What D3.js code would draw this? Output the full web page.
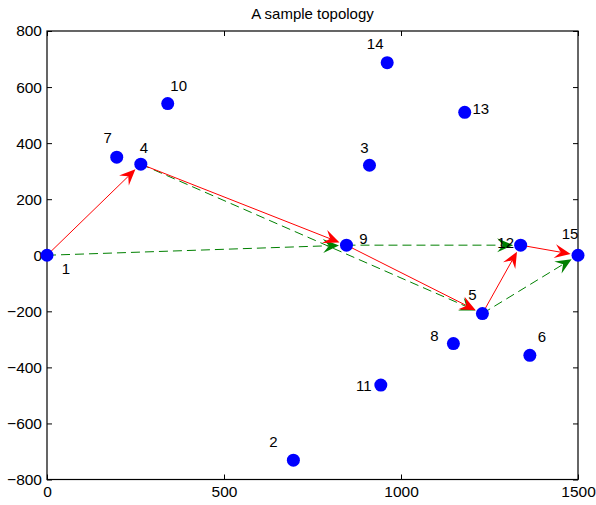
<!DOCTYPE html>
<html>
<head>
<meta charset="utf-8">
<script src="https://cdn.jsdelivr.net/npm/d3@7"></script>
<style>
	body { margin: 0; background: #fff; }
	svg { display: block; font-family: "Liberation Sans", Arial, sans-serif; }
</style>
</head>
<body>
<div id="chart"></div>
<script>
// node ids and positions (data units)
var nodeIds = [1, 2, 3, 4, 5, 6, 7, 8, 9, 10, 11, 12, 13, 14, 15];
var nodeX = [0, 696, 911, 265, 1230, 1364, 197, 1148, 846, 341, 943, 1338, 1180, 961, 1500];
var nodeY = [0, -731, 321, 325, -208, -357, 350, -315, 36, 541, -463, 36, 510, 687, 0];

// label offsets in pixels from node centre
var labelDx = [19, -20, -5, 3, -10, 12, -9, -19, 17, 11, -17, -15, 16, -12, -8];
var labelDy = [13, -18, -18, -16, -19, -19, -19, -8, -6, -18, 1, -2, -4, -19, -22];

// red path (solid) and green path (dashed)
var redEdges = [[1, 4], [4, 9], [9, 5], [5, 12], [12, 15]];
var greenEdges = [[1, 9], [4, 5], [9, 12], [5, 15]];

var xTicks = [0, 500, 1000, 1500];
var yTicks = [-800, -600, -400, -200, 0, 200, 400, 600, 800];

var margin = {top: 31, right: 18, bottom: 25.5, left: 47},
	width = 596 - margin.left - margin.right,
	height = 505 - margin.top - margin.bottom,
	radius = 6.5;

var svg = d3.select("#chart").append("svg")
	.attr("width", 596)
	.attr("height", 505);

svg.append("text")
	.attr("x", margin.left + width / 2)
	.attr("y", 19)
	.attr("text-anchor", "middle")
	.attr("font-size", 15)
	.text("A sample topology");

var g = svg.append("g")
	.attr("transform", "translate(" + margin.left + "," + margin.top + ")");

var xScale = d3.scaleLinear().domain([0, 1500]).range([0, width]);
var yScale = d3.scaleLinear().domain([-800, 800]).range([height, 0]);

var fmt = function(d) { return d < 0 ? "\u2212" + (-d) : String(d); };

// axes, ticks pointing inward
g.append("g").attr("class", "axis")
	.attr("transform", "translate(0," + height + ")")
	.call(d3.axisBottom(xScale).tickValues(xTicks).tickSizeInner(-5).tickSizeOuter(0).tickPadding(6).tickFormat(fmt));
g.append("g").attr("class", "axis")
	.call(d3.axisTop(xScale).tickValues(xTicks).tickSizeInner(-5).tickSizeOuter(0).tickFormat(""));
g.append("g").attr("class", "axis")
	.call(d3.axisLeft(yScale).tickValues(yTicks).tickSizeInner(-5).tickSizeOuter(0).tickPadding(5).tickFormat(fmt));
g.append("g").attr("class", "axis")
	.attr("transform", "translate(" + width + ",0)")
	.call(d3.axisRight(yScale).tickValues(yTicks).tickSizeInner(-5).tickSizeOuter(0).tickFormat(""));

g.selectAll(".axis text")
	.attr("font-size", 15.5)
	.attr("font-family", "Liberation Sans, Arial, sans-serif")
	.attr("fill", "#000");
g.selectAll(".axis line").attr("stroke", "#000");
g.selectAll(".axis path").remove();

g.append("rect")
	.attr("width", width)
	.attr("height", height)
	.attr("fill", "none")
	.attr("stroke", "#000")
	.attr("stroke-width", 1.2);

function nodePos(id) {
	var i = nodeIds.indexOf(id);
	return [xScale(nodeX[i]), yScale(nodeY[i])];
}

/**
 * draw an edge with a notched arrowhead ending near the target node
 */
function drawEdge(edge, color, dash) {
	var a = nodePos(edge[0]), b = nodePos(edge[1]);
	var dx = b[0] - a[0], dy = b[1] - a[1];
	var len = Math.sqrt(dx * dx + dy * dy);
	var ux = dx / len, uy = dy / len;
	var tip = [b[0] - ux * 7.5, b[1] - uy * 7.5];
	var headLen = 16, headW = 7, notch = 10;

	g.append("line")
		.attr("x1", a[0]).attr("y1", a[1])
		.attr("x2", tip[0] - ux * notch).attr("y2", tip[1] - uy * notch)
		.attr("stroke", color)
		.attr("stroke-width", 1)
		.attr("stroke-dasharray", dash);

	var px = -uy, py = ux;
	var back = [tip[0] - ux * headLen, tip[1] - uy * headLen];
	var pts = [
		tip,
		[back[0] + px * headW, back[1] + py * headW],
		[tip[0] - ux * notch, tip[1] - uy * notch],
		[back[0] - px * headW, back[1] - py * headW]
	];
	g.append("path")
		.attr("d", "M" + pts.join("L") + "Z")
		.attr("fill", color)
		.attr("stroke", "none");
}

greenEdges.forEach(function(e) { drawEdge(e, "#008000", "9,5"); });
redEdges.forEach(function(e) { drawEdge(e, "#ff0000", null); });

// nodes
g.selectAll(".node")
	.data(nodeIds).enter()
	.append("circle")
	.attr("class", "node")
	.attr("cx", function(d, i) { return xScale(nodeX[i]); })
	.attr("cy", function(d, i) { return yScale(nodeY[i]); })
	.attr("r", radius)
	.attr("fill", "#0000ff");

// node labels
g.selectAll(".label")
	.data(nodeIds).enter()
	.append("text")
	.attr("class", "label")
	.attr("x", function(d, i) { return xScale(nodeX[i]) + labelDx[i]; })
	.attr("y", function(d, i) { return yScale(nodeY[i]) + labelDy[i]; })
	.attr("text-anchor", "middle")
	.attr("dy", "0.35em")
	.attr("font-size", 15)
	.text(function(d) { return d; });
</script>
</body>
</html>
